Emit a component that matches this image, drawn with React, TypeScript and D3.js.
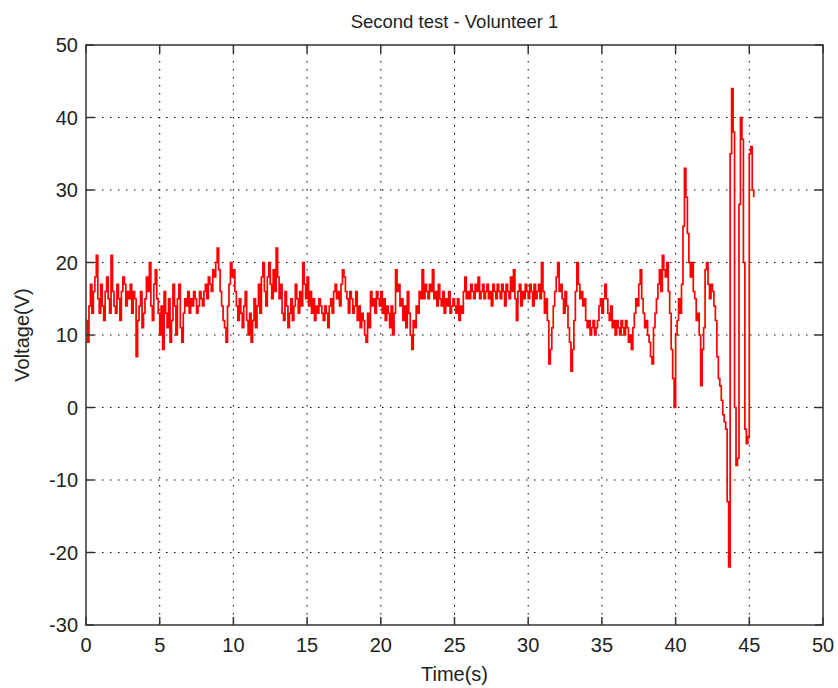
import { useEffect, useRef } from 'react'
import * as d3 from 'd3'

// Sampling step of the recorded signal (seconds)
const DT = 0.1

// Voltage samples, one row per second (10 samples each)
const VOLTAGE = [
  12, 9, 14, 17, 13, 16, 18, 21, 15, 13,
  17, 14, 12, 16, 18, 15, 13, 21, 16, 14,
  13, 17, 15, 12, 16, 18, 17, 14, 16, 15,
  17, 13, 16, 15, 7, 12, 14, 16, 11, 13,
  15, 18, 16, 20, 14, 12, 17, 19, 15, 13,
  10, 14, 8, 16, 13, 11, 15, 9, 12, 17,
  14, 10, 15, 17, 11, 9, 13, 15, 14, 16,
  13, 15, 14, 16, 15, 13, 14, 16, 15, 14,
  16, 17, 15, 18, 17, 16, 19, 18, 20, 22,
  19, 16, 14, 12, 11, 9, 14, 17, 20, 18,
  19, 16, 14, 12, 15, 13, 11, 14, 16, 12,
  10, 13, 9, 12, 15, 11, 14, 17, 13, 18,
  20, 16, 14, 18, 20, 17, 15, 19, 16, 22,
  18, 15, 17, 13, 12, 16, 14, 11, 13, 15,
  12, 14, 17, 15, 13, 16, 14, 20, 17, 15,
  18, 14, 16, 13, 15, 12, 14, 13, 15, 14,
  13, 12, 14, 13, 11, 14, 15, 13, 16, 17,
  15, 16, 14, 17, 19, 18, 16, 15, 13, 16,
  15, 13, 14, 16, 12, 14, 11, 13, 12, 10,
  9, 13, 11, 16, 14, 15, 13, 16, 15, 14,
  16, 13, 15, 12, 14, 13, 11, 14, 10, 13,
  19, 16, 17, 14, 15, 12, 14, 11, 16, 13,
  10, 8, 12, 11, 14, 13, 16, 15, 19, 15,
  17, 16, 15, 17, 16, 19, 15, 16, 14, 17,
  15, 14, 16, 13, 15, 14, 16, 13, 14, 15,
  14, 13, 15, 12, 14, 13, 16, 18, 15, 16,
  15, 17, 16, 15, 17, 16, 18, 15, 16, 17,
  15, 16, 17, 15, 16, 14, 17, 16, 15, 17,
  16, 15, 17, 16, 14, 17, 16, 15, 18, 16,
  19, 15, 12, 16, 17, 14, 16, 15, 17, 16,
  15, 17, 16, 14, 17, 15, 16, 17, 15, 20,
  16, 13, 15, 12, 6, 8, 11, 14, 16, 18,
  20, 16, 17, 15, 13, 16, 14, 11, 9, 5,
  8, 12, 16, 20, 17, 15, 16, 14, 15, 12,
  11, 12, 10, 11, 12, 10, 11, 12, 14, 15,
  13, 15, 17, 15, 13, 12, 14, 11, 12, 10,
  12, 11, 10, 12, 11, 10, 12, 11, 9, 10,
  8, 11, 13, 15, 14, 17, 19, 15, 13, 11,
  12, 10, 9, 7, 6, 11, 13, 15, 17, 19,
  16, 21, 19, 18, 20, 16, 13, 8, 4, 0,
  10, 12, 15, 13, 17, 25, 33, 29, 24, 20,
  18, 20, 16, 15, 12, 13, 10, 3, 8, 11,
  19, 20, 17, 15, 17, 16, 14, 12, 7, 4,
  3, 1, -1, -2, -3, -13, -22, 35, 44, 38,
  0, -8, -7, 28, 40, 37, 20, -3, -5, -4,
  35, 36, 30, 29,
]

const X_TICKS = [0, 5, 10, 15, 20, 25, 30, 35, 40, 45, 50]
const Y_TICKS = [-30, -20, -10, 0, 10, 20, 30, 40, 50]

const TITLE = 'Second test - Volunteer 1'
const X_LABEL = 'Time(s)'
const Y_LABEL = 'Voltage(V)'

const WIDTH = 838
const HEIGHT = 688
const FONT = 'Liberation Sans, Arial, Helvetica, sans-serif'

const App = () => {
  const svgRef = useRef<SVGSVGElement>(null)

  useEffect(() => {
    if (!svgRef.current) return
    const svg = d3.select(svgRef.current)
    svg.selectAll('*').remove()

    const margin = { top: 45, right: 15, bottom: 63, left: 86 }
    const innerW = WIDTH - margin.left - margin.right
    const innerH = HEIGHT - margin.top - margin.bottom

    const x = d3.scaleLinear().domain([0, 50]).range([0, innerW])
    const y = d3.scaleLinear().domain([-30, 50]).range([innerH, 0])

    svg.append('rect')
      .attr('width', WIDTH)
      .attr('height', HEIGHT)
      .attr('fill', '#fff')

    const g = svg.append('g')
      .attr('transform', `translate(${margin.left},${margin.top})`)

    // dotted grid
    g.selectAll('.vgrid')
      .data(X_TICKS.slice(1, -1))
      .enter()
      .append('line')
      .attr('x1', d => x(d))
      .attr('x2', d => x(d))
      .attr('y1', 0)
      .attr('y2', innerH)
      .attr('stroke', '#000')
      .attr('stroke-width', 1)
      .attr('stroke-dasharray', '1.5,6.5')

    g.selectAll('.hgrid')
      .data(Y_TICKS.slice(1, -1))
      .enter()
      .append('line')
      .attr('x1', 0)
      .attr('x2', innerW)
      .attr('y1', d => y(d))
      .attr('y2', d => y(d))
      .attr('stroke', '#000')
      .attr('stroke-width', 1)
      .attr('stroke-dasharray', '1.5,6.5')

    // signal
    const points = VOLTAGE.map((v, i) => [i * DT, v] as [number, number])
    const line = d3.line<[number, number]>()
      .x(d => x(d[0]))
      .y(d => y(d[1]))
      .curve(d3.curveStepAfter)

    g.append('path')
      .datum(points)
      .attr('d', line)
      .attr('fill', 'none')
      .attr('stroke', '#f00')
      .attr('stroke-width', 1.7)

    // frame
    g.append('rect')
      .attr('width', innerW)
      .attr('height', innerH)
      .attr('fill', 'none')
      .attr('stroke', '#333')
      .attr('stroke-width', 1.5)

    // inward tick marks on all four sides
    const tickLen = 8
    X_TICKS.forEach(t => {
      g.append('line')
        .attr('x1', x(t)).attr('x2', x(t))
        .attr('y1', innerH).attr('y2', innerH - tickLen)
        .attr('stroke', '#333').attr('stroke-width', 1.5)
      g.append('line')
        .attr('x1', x(t)).attr('x2', x(t))
        .attr('y1', 0).attr('y2', tickLen)
        .attr('stroke', '#333').attr('stroke-width', 1.5)
    })
    Y_TICKS.forEach(t => {
      g.append('line')
        .attr('x1', 0).attr('x2', tickLen)
        .attr('y1', y(t)).attr('y2', y(t))
        .attr('stroke', '#333').attr('stroke-width', 1.5)
      g.append('line')
        .attr('x1', innerW).attr('x2', innerW - tickLen)
        .attr('y1', y(t)).attr('y2', y(t))
        .attr('stroke', '#333').attr('stroke-width', 1.5)
    })

    // tick labels
    g.selectAll('.xlab')
      .data(X_TICKS)
      .enter()
      .append('text')
      .attr('x', d => x(d))
      .attr('y', innerH + 27)
      .attr('text-anchor', 'middle')
      .attr('font-family', FONT)
      .attr('font-size', 20)
      .attr('fill', '#222')
      .text(d => d)

    g.selectAll('.ylab')
      .data(Y_TICKS)
      .enter()
      .append('text')
      .attr('x', -8)
      .attr('y', d => y(d))
      .attr('dy', '0.35em')
      .attr('text-anchor', 'end')
      .attr('font-family', FONT)
      .attr('font-size', 20)
      .attr('fill', '#222')
      .text(d => d)

    // title and axis labels
    svg.append('text')
      .attr('x', margin.left + innerW / 2)
      .attr('y', 28)
      .attr('text-anchor', 'middle')
      .attr('font-family', FONT)
      .attr('font-size', 18.5)
      .attr('fill', '#222')
      .text(TITLE)

    svg.append('text')
      .attr('x', margin.left + innerW / 2)
      .attr('y', 681)
      .attr('text-anchor', 'middle')
      .attr('font-family', FONT)
      .attr('font-size', 20)
      .attr('fill', '#222')
      .text(X_LABEL)

    svg.append('text')
      .attr('transform', `translate(29,${margin.top + innerH / 2}) rotate(-90)`)
      .attr('text-anchor', 'middle')
      .attr('font-family', FONT)
      .attr('font-size', 20)
      .attr('fill', '#222')
      .text(Y_LABEL)
  }, [])

  return (
    <svg
      ref={svgRef}
      width={WIDTH}
      height={HEIGHT}
      style={{ position: 'absolute', left: 0, top: 0, display: 'block' }}
    />
  )
}

export default App
